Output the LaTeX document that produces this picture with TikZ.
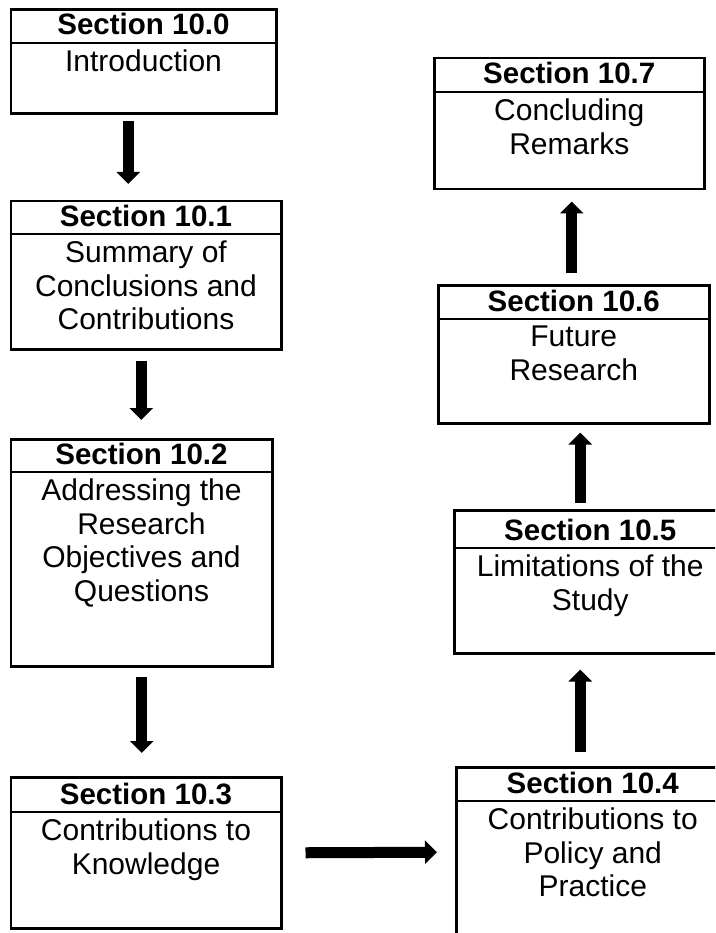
\documentclass[tikz,border=0pt]{standalone}
\usepackage{fontspec}
\setmainfont{Liberation Sans}
\usetikzlibrary{arrows.meta}

\tikzset{
  secframe/.style={draw, line width=2.5pt, rectangle, anchor=north west, inner sep=0pt},
  divline/.style={line width=2pt},
  sectitle/.style={anchor=base, inner sep=0pt, font=\fontsize{29.5}{33.5}\selectfont\bfseries},
  secbody/.style={anchor=north, inner sep=0pt, align=center, font=\fontsize{30}{33.5}\selectfont},
  flowarrow/.style={line width=11pt, -{Triangle[width=23pt,length=12pt]}},
}

% #1 name, #2 left, #3 top, #4 width, #5 height, #6 header band height,
% #7 section number, #8 description
\newcommand\drawsecbox[8]{%
  \node[secframe, minimum width=#4pt, minimum height=#5pt] (#1) at (#2,#3) {};
  \draw[divline] ([yshift=-#6pt]#1.north west) -- ([yshift=-#6pt]#1.north east);
  \node[sectitle] (#1t) at ([yshift=-#6pt+8pt]#1.north) {Section #7};
  \node[secbody] (#1b) at ([yshift=-#6pt-7pt]#1.north) {#8};
}

\begin{document}
\begin{tikzpicture}[x=1pt, y=-1pt]
  \useasboundingbox (0,0) rectangle (715,933);
  \fill[white] (0,0) rectangle (715,933);
  \clip (0,0) rectangle (715,933);

  % left column, top to bottom
  \drawsecbox{b0}{9.5}{8.5}{265.5}{104}{34.5}{10.0}{Introduction}
  \drawsecbox{b1}{9.5}{200}{270.5}{148}{34}{10.1}{Summary of\\Conclusions and\\Contributions}
  \drawsecbox{b2}{9.5}{438}{261.5}{227}{34}{10.2}{Addressing the\\Research\\Objectives and\\Questions}
  \drawsecbox{b3}{9.5}{776}{270.5}{151}{36}{10.3}{Contributions to\\Knowledge}

  % right column, bottom to top
  \drawsecbox{b4}{455}{766}{273}{194}{35}{10.4}{Contributions to\\Policy and\\Practice}
  \drawsecbox{b5}{453}{509}{272}{143}{39}{10.5}{Limitations of the\\Study}
  \drawsecbox{b6}{437}{284}{271}{138}{35}{10.6}{Future\\Research}
  \drawsecbox{b7}{433}{57}{270}{131}{35}{10.7}{Concluding\\Remarks}

  % flow between sections
  \draw[flowarrow] ([xshift=-15.25pt,yshift=-6.5pt]b0.south) -- ([xshift=-17.75pt,yshift=16pt]b1.north);
  \draw[flowarrow] ([xshift=-4.75pt,yshift=-10pt]b1.south) -- ([xshift=-0.25pt,yshift=18pt]b2.north);
  \draw[flowarrow] ([xshift=0.25pt,yshift=-9pt]b2.south) -- ([xshift=-4.25pt,yshift=23pt]b3.north);
  \draw[flowarrow] ([xshift=23pt]b3.east) -- ([xshift=-18pt,yshift=12pt]b4.west);
  \draw[flowarrow] ([xshift=-12.5pt,yshift=14pt]b4.north) -- ([xshift=-10pt,yshift=-15pt]b5.south);
  \draw[flowarrow] ([xshift=-10pt,yshift=6pt]b5.north) -- ([xshift=6.5pt,yshift=-8pt]b6.south);
  \draw[flowarrow] ([xshift=-2pt,yshift=11pt]b6.north) -- ([xshift=2.5pt,yshift=-11pt]b7.south);
\end{tikzpicture}
\end{document}
